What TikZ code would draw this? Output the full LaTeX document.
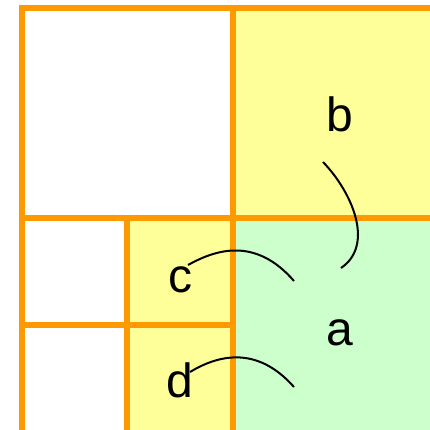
\documentclass[tikz,border=0pt]{standalone}
\usepackage{fontspec}
\setmainfont{Liberation Sans}
\definecolor{gridor}{HTML}{FF9900}
\definecolor{yel}{HTML}{FFFF99}
\definecolor{grn}{HTML}{CCFFCC}
\tikzset{
  gridline/.style={draw=gridor,line width=6pt},
  lbl/.style={font=\fontsize{48}{48}\selectfont,anchor=base,inner sep=0pt},
  edge/.style={draw=black,line width=2pt}
}
\begin{document}
\begin{tikzpicture}[x=1pt,y=-1pt]
\useasboundingbox (0,0) rectangle (430,430);
\begin{scope}
\clip (0,0) rectangle (430,430);
\fill[yel] (233,8.5) rectangle (444,218);
\fill[grn] (233,218) rectangle (444,440);
\fill[yel] (127,218) rectangle (233,440);
\draw[gridline] (22,8.5) rectangle (444,440);
\draw[gridline] (233,8.5) -- (233,440);
\draw[gridline] (22,218) -- (444,218);
\draw[gridline] (127,218) -- (127,440);
\draw[gridline] (22,325) -- (233,325);
\end{scope}
\node[lbl] (b) at (340,132) {b};
\node[lbl] (a) at (340,345) {a};
\node[lbl] (c) at (180,292) {c};
\node[lbl] (d) at (180,397) {d};
\coordinate (bs) at (323,162);
\coordinate (be) at (341,268);
\coordinate (cs) at (188,265);
\coordinate (ce) at (294,281);
\coordinate (ds) at (190,372);
\coordinate (de) at (294,387);
\draw[edge] (bs) .. controls (352,192) and (375,245) .. (be);
\draw[edge] (cs) .. controls (215,250) and (255,236) .. (ce);
\draw[edge] (ds) .. controls (215,357) and (255,343) .. (de);
\end{tikzpicture}
\end{document}
